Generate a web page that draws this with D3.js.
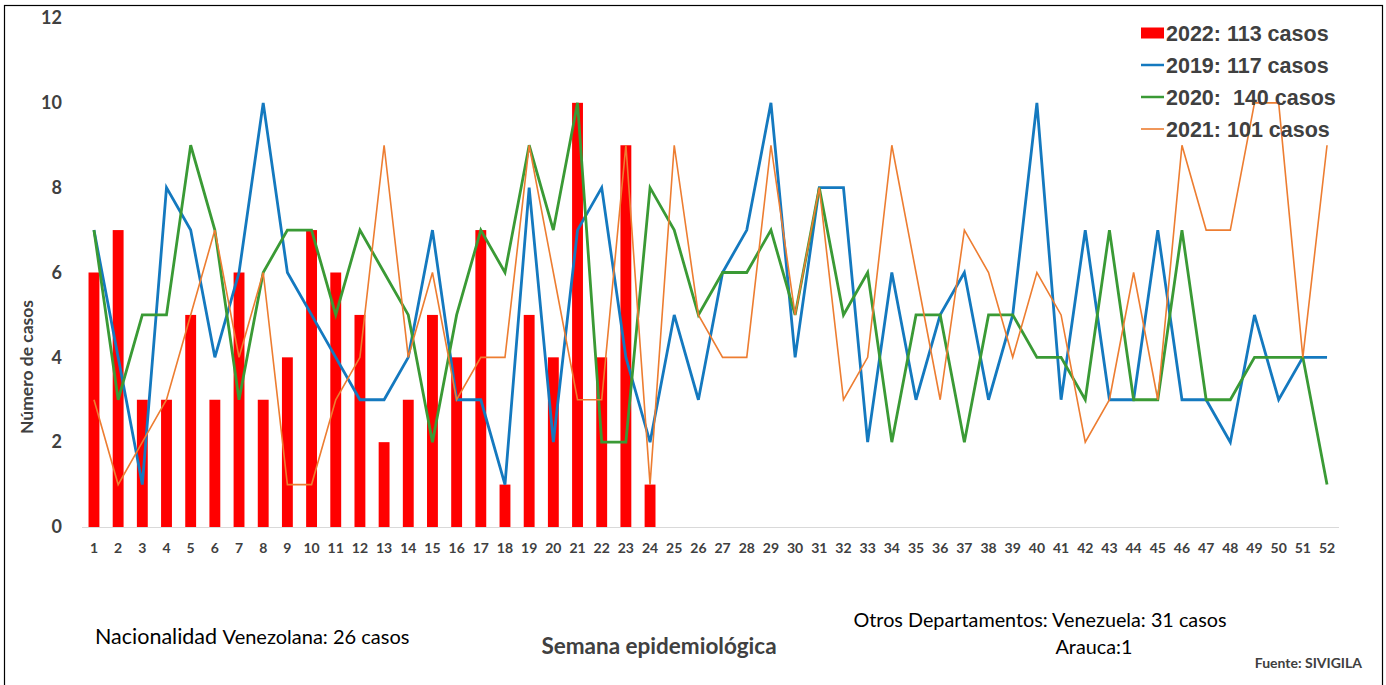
<!DOCTYPE html>
<html>
<head>
<meta charset="utf-8">
<script src="https://cdn.jsdelivr.net/npm/d3@7"></script>
<style>
  body { margin: 0; background: #fff; }
  svg { display: block; }
</style>
</head>
<body>
<div id="chart"></div>
<script>
// Weekly cases per epidemiological week
const weeks = d3.range(1, 53)
const cases2022 = [6, 7, 3, 3, 5, 3, 6, 3, 4, 7, 6, 5, 2, 3, 5, 4, 7, 1, 5, 4, 10, 4, 9, 1]
const cases2019 = [7, 4, 1, 8, 7, 4, 6, 10, 6, 5, 4, 3, 3, 4, 7, 3, 3, 1, 8, 2, 7, 8, 4, 2, 5, 3,
                   6, 7, 10, 4, 8, 8, 2, 6, 3, 5, 6, 3, 5, 10, 3, 7, 3, 3, 7, 3, 3, 2, 5, 3, 4, 4]
const cases2020 = [7, 3, 5, 5, 9, 7, 3, 6, 7, 7, 5, 7, 6, 5, 2, 5, 7, 6, 9, 7, 10, 2, 2, 8, 7, 5,
                   6, 6, 7, 5, 8, 5, 6, 2, 5, 5, 2, 5, 5, 4, 4, 3, 7, 3, 3, 7, 3, 3, 4, 4, 4, 1]
const cases2021 = [3, 1, 2, 3, 5, 7, 4, 6, 1, 1, 3, 4, 9, 4, 6, 3, 4, 4, 9, 6, 3, 3, 9, 1, 9, 5,
                   4, 4, 9, 5, 8, 3, 4, 9, 6, 3, 7, 6, 4, 6, 5, 2, 3, 6, 3, 9, 7, 7, 10, 10, 4, 9]
const yTicks = [0, 2, 4, 6, 8, 10, 12]

const legendItems = [
    {label: '2022: 113 casos', color: '#FF0000', type: 'bar'},
    {label: '2019: 117 casos', color: '#1479BF', type: 'line', w: 2.5},
    {label: '2020:  140 casos', color: '#3A9A35', type: 'line', w: 2.5},
    {label: '2021: 101 casos', color: '#ED7D31', type: 'line', w: 1.6},
]
const lineSeries = [
    {values: cases2019, color: '#1479BF', w: 2.8},
    {values: cases2020, color: '#3A9A35', w: 2.8},
    {values: cases2021, color: '#ED7D31', w: 1.6},
]

const width = 1386, height = 685
const margin = {top: 18, right: 47, bottom: 158, left: 82}
const textColor = '#404040'
const font = 'Lato, "Open Sans", sans-serif'

const svg = d3.select('#chart').append('svg')
    .attr('width', width)
    .attr('height', height)

// outer frame
svg.append('rect')
    .attr('x', 4.5).attr('y', 5.5)
    .attr('width', 1378).attr('height', 700)
    .attr('fill', 'none')
    .attr('stroke', '#000')
    .attr('stroke-width', 1.2)

const x = d3.scaleBand()
    .domain(weeks)
    .range([margin.left, width - margin.right])
    .paddingInner(0.55)
    .paddingOuter(0.27)

const y = d3.scaleLinear()
    .domain([0, 12])
    .range([height - margin.bottom, margin.top])

const cx = d => x(d) + x.bandwidth() / 2

// y axis (labels only)
const yAxis = d3.axisLeft(y).tickValues(yTicks).tickSize(0).tickPadding(0)
svg.append('g')
    .attr('transform', `translate(62, 0)`)
    .call(yAxis)
    .call(g => g.select('.domain').remove())
    .selectAll('text')
    .attr('fill', textColor)
    .attr('font-family', font)
    .attr('font-weight', 'bold')
    .attr('font-size', 18)

// x axis
const xAxis = d3.axisBottom(x).tickSize(0).tickPadding(16)
svg.append('g')
    .attr('transform', `translate(0, ${y(0)})`)
    .call(xAxis)
    .call(g => g.select('.domain')
        .attr('stroke', '#d9d9d9')
        .attr('stroke-width', 1.2)
        .attr('d', `M${margin.left},0.5H${width - margin.right}`))
    .selectAll('text')
    .attr('fill', textColor)
    .attr('font-family', font)
    .attr('font-weight', 'bold')
    .attr('font-size', 14)

// bars for 2022
svg.append('g').selectAll('rect')
    .data(cases2022)
    .join('rect')
    .attr('x', (d, i) => x(weeks[i]))
    .attr('y', d => y(d))
    .attr('width', x.bandwidth())
    .attr('height', d => y(0) - y(d))
    .attr('fill', '#FF0000')

// lines for previous years
const line = d3.line()
    .x((d, i) => cx(weeks[i]))
    .y(d => y(d))

svg.append('g').selectAll('path')
    .data(lineSeries)
    .join('path')
    .attr('d', s => line(s.values))
    .attr('fill', 'none')
    .attr('stroke', s => s.color)
    .attr('stroke-width', s => s.w)
    .attr('stroke-linejoin', 'miter')

// legend
const legend = svg.append('g').attr('transform', 'translate(1141, 33)')
const rows = legend.selectAll('g')
    .data(legendItems)
    .join('g')
    .attr('transform', (d, i) => `translate(0, ${i * 32})`)
rows.filter(d => d.type === 'bar').append('rect')
    .attr('x', 0).attr('y', -5.5)
    .attr('width', 23).attr('height', 11)
    .attr('fill', d => d.color)
rows.filter(d => d.type === 'line').append('line')
    .attr('x1', 0).attr('x2', 23)
    .attr('stroke', d => d.color)
    .attr('stroke-width', d => d.w)
rows.append('text')
    .attr('x', 25)
    .attr('dy', '0.36em')
    .attr('fill', textColor)
    .attr('font-family', '"Liberation Sans", Arial, sans-serif')
    .attr('font-weight', 'bold')
    .attr('font-size', 21.5)
    .style('white-space', 'pre')
    .text(d => d.label)

// axis titles
svg.append('text')
    .attr('transform', 'translate(33, 367) rotate(-90)')
    .attr('text-anchor', 'middle')
    .attr('fill', textColor)
    .attr('font-family', font)
    .attr('font-weight', 'bold')
    .attr('font-size', 17.5)
    .text('Número de casos')

svg.append('text')
    .attr('x', 659).attr('y', 654)
    .attr('text-anchor', 'middle')
    .attr('fill', textColor)
    .attr('font-family', font)
    .attr('font-weight', 'bold')
    .attr('font-size', 22.5)
    .text('Semana epidemiológica')

// notes
const note = svg.append('text')
    .attr('x', 95).attr('y', 644)
    .attr('fill', '#000')
    .attr('font-family', font)
    .attr('font-size', 20)
note.append('tspan').attr('font-size', 21.5).text('Nacionalidad ')
note.append('tspan').text('Venezolana: 26 casos')

svg.append('text')
    .attr('x', 1040).attr('y', 627)
    .attr('text-anchor', 'middle')
    .attr('fill', '#000')
    .attr('font-family', font)
    .attr('font-size', 19.8)
    .text('Otros Departamentos: Venezuela: 31 casos')

svg.append('text')
    .attr('x', 1094).attr('y', 654)
    .attr('text-anchor', 'middle')
    .attr('fill', '#000')
    .attr('font-family', font)
    .attr('font-size', 19.8)
    .text('Arauca:1')

svg.append('text')
    .attr('x', 1362).attr('y', 668)
    .attr('text-anchor', 'end')
    .attr('fill', textColor)
    .attr('font-family', font)
    .attr('font-weight', 'bold')
    .attr('font-size', 14)
    .text('Fuente: SIVIGILA')
</script>
</body>
</html>
